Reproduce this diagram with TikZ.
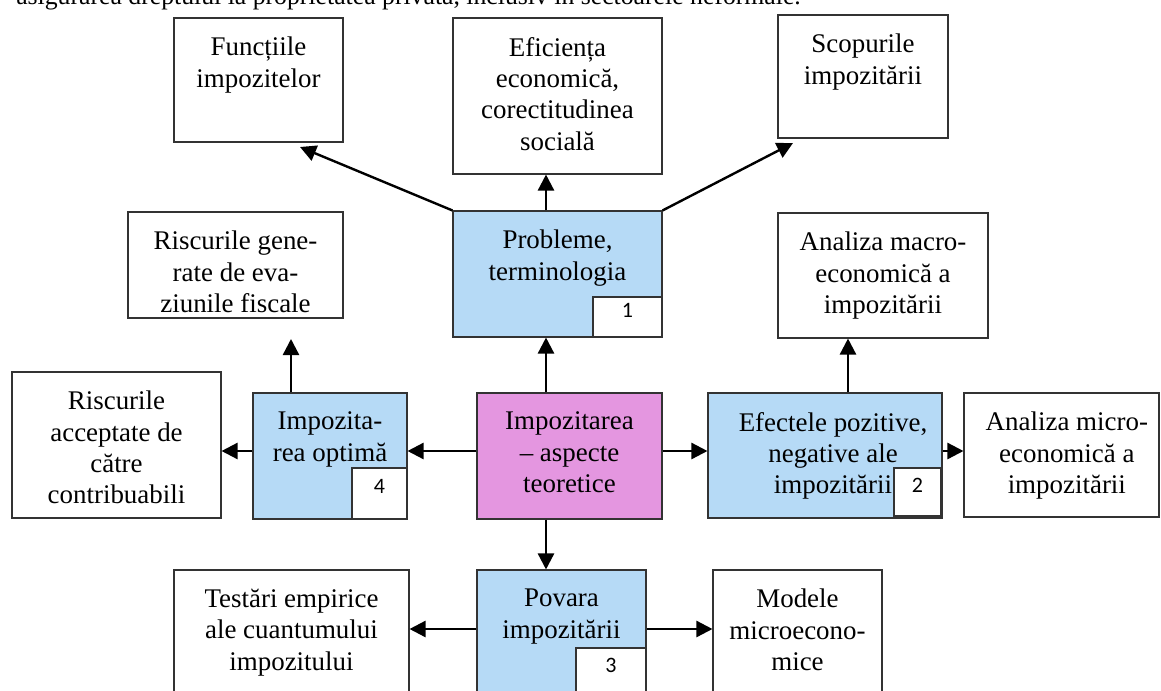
\documentclass[tikz,border=0pt]{standalone}
\usepackage{fontspec}
\setmainfont{Liberation Serif}
\newfontfamily\numfont{Carlito}
\usetikzlibrary{arrows.meta,fit}

\definecolor{boxblue}{RGB}{182,218,246}
\definecolor{boxpink}{RGB}{228,150,224}

% framed box between two corners, text at the top
\newcommand{\tbox}[8][]{%
  \node[box, fill=#7, fit={(#3,#4) (#5,#6)}] (#2) {};
  \node[txt, #1] (#2-t) at (#2.north) {#8};
}

\begin{document}
\begin{tikzpicture}[x=0.75pt,y=-0.75pt,
  box/.style={draw=black!80, line width=0.8pt, inner sep=0pt},
  txt/.style={anchor=north, align=center, inner sep=0pt, yshift=-14.5pt,
    font=\fontsize{20.2}{23.5}\selectfont},
  num/.style={font=\numfont\fontsize{16.5}{18}\selectfont},
  arr/.style={line width=1.8pt, -{Triangle[length=12pt,width=12pt]}}]
  \clip (0,0) rectangle (1161,690);
  \node[anchor=base west, inner sep=0pt, font=\fontsize{19.3}{24}\selectfont] (intro) at (16,4)
    {asigurarea dreptului la proprietatea privată, inclusiv în sectoarele neformale.};

  % upper row
  \tbox{fct}{174}{18}{343}{142}{white}{Funcțiile\\impozitelor}
  \tbox{efi}{453}{18}{662}{174}{white}{Eficiența\\economică,\\corectitudinea\\socială}
  \tbox{scp}{778}{15}{948}{138}{white}{Scopurile\\impozitării}
  % second row
  \tbox{gen}{128}{212}{343}{318}{white}{Riscurile gene-\\rate de eva-\\ziunile fiscale}
  \tbox{prob}{453}{211}{662}{337}{boxblue}{Probleme,\\terminologia}
  \tbox{mac}{778}{213}{988}{338}{white}{Analiza macro-\\economică a\\impozitării}
  % middle row
  \tbox{acc}{12}{372}{221}{518}{white}{Riscurile\\acceptate de\\către\\contribuabili}
  \tbox{opt}{253}{393}{407}{519}{boxblue}{Impozita-\\rea optimă}
  \tbox{imp}{477}{393}{662}{519}{boxpink}{Impozitarea\\– aspecte\\teoretice}
  \tbox[xshift=6pt]{efe}{708}{393}{942}{518}{boxblue}{Efectele pozitive,\\negative ale\\impozitării}
  \tbox[xshift=4pt]{mic}{964}{393}{1159}{517}{white}{Analiza micro-\\economică a\\impozitării}
  % lower row
  \tbox{tst}{174}{570}{409}{698}{white}{Testări empirice\\ale cuantumului\\impozitului}
  \tbox{pov}{477}{570}{646}{698}{boxblue}{Povara\\impozitării}
  \tbox{mod}{713}{570}{882}{698}{white}{Modele\\microecono-\\mice}

  % numbers
  \node[box, fill=white, num, fit={(593,297) (662,337)}] (n1) {1};
  \node[box, fill=white, num, fit={(894,468) (941,516)}] (n2) {2};
  \node[box, fill=white, num, fit={(576,648) (646,698)}] (n3) {3};
  \node[box, fill=white, num, fit={(352,468) (407,519)}] (n4) {4};

  % arrows
  \coordinate (axis) at (546,0);
  \coordinate (macx) at (848,0);
  \coordinate (row) at (0,451);
  \coordinate (rowb) at (0,629);
  \coordinate (fcttip) at (300,147);
  \coordinate (scptip) at (793,143);
  \coordinate (gentip) at (291,339);
  \draw[arr] (prob.north west) -- (fcttip);
  \draw[arr] (prob.north east) -- (scptip);
  \draw[arr] (prob.north -| axis) -- (efi.south -| axis);
  \draw[arr] (imp.north -| axis) -- (prob.south -| axis);
  \draw[arr] (imp.south -| axis) -- (pov.north -| axis);
  \draw[arr] (opt.north -| gentip) -- (gentip);
  \draw[arr] (efe.north -| macx) -- (mac.south -| macx);
  \draw[arr] (imp.west |- row) -- (opt.east |- row);
  \draw[arr] (opt.west |- row) -- (acc.east |- row);
  \draw[arr] (imp.east |- row) -- (efe.west |- row);
  \draw[arr] (efe.east |- row) -- (mic.west |- row);
  \draw[arr] (pov.west |- rowb) -- (tst.east |- rowb);
  \draw[arr] (pov.east |- rowb) -- (mod.west |- rowb);
\end{tikzpicture}
\end{document}
